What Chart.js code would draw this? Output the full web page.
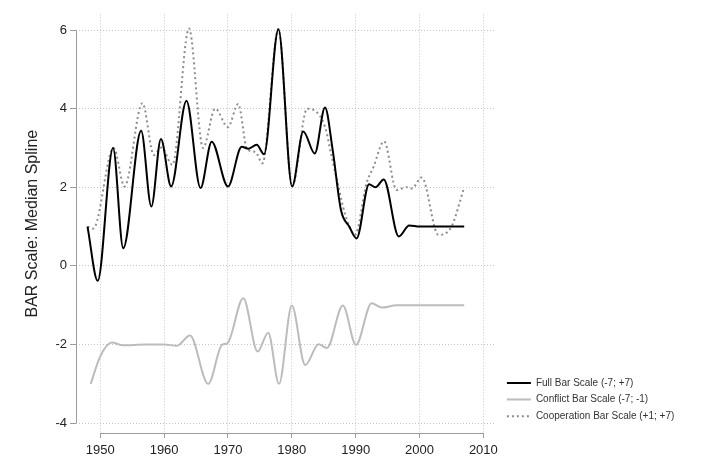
<!DOCTYPE html>
<html>
<head>
<meta charset="utf-8">
<script src="https://cdn.jsdelivr.net/npm/chart.js@4.4.1/dist/chart.umd.min.js"></script>
<style>
  html, body { margin: 0; padding: 0; background: #fff; }
  canvas { display: block; }
</style>
</head>
<body>
<canvas id="barChart" width="716" height="474"></canvas>
<script>
// values (knots of the median spline)
const fullYears = [1948, 1949.6, 1952.0, 1953.6, 1956.4, 1958.0, 1959.5, 1961.1, 1963.5, 1965.7,
  1967.45, 1970.0, 1972.15, 1973.2, 1974.5, 1975.65, 1977.9, 1980.05, 1981.8, 1983.6,
  1985.2, 1986.4, 1987.7, 1989.0, 1990.15, 1992.1, 1993.1, 1994.4, 1996.75, 1998.4, 2000.0, 2007.0];
const fullValues = [1.0, -0.38, 3.0, 0.45, 3.44, 1.51, 3.23, 2.02, 4.2, 1.98,
  3.16, 2.02, 3.03, 2.98, 3.08, 2.84, 6.02, 2.02, 3.42, 2.86,
  4.03, 2.95, 1.42, 1.0, 0.7, 2.08, 2.0, 2.2, 0.75, 1.03, 1.0, 1.0];

const conflictYears = [1948.5, 1950.0, 1951.8, 1953.6, 1957.0, 1960.0, 1962.0, 1964.05, 1966.9, 1969.1,
  1969.9, 1972.4, 1974.65, 1976.3, 1978.0, 1980.0, 1982.1, 1984.2, 1985.5, 1988.0,
  1990.05, 1992.5, 1994.1, 1996.4, 2007.0];
const conflictValues = [-3.0, -2.3, -1.95, -2.02, -2.0, -2.0, -2.03, -1.77, -3.0, -2.0,
  -1.97, -0.82, -2.18, -1.7, -3.0, -1.01, -2.52, -1.99, -2.09, -1.01,
  -2.01, -0.95, -1.06, -1.0, -1.0];

const coopYears = [1948.0, 1948.9, 1952.1, 1953.8, 1956.6, 1958.4, 1959.6, 1961.3, 1963.9, 1966.1,
  1968.0, 1970.0, 1971.6, 1973.0, 1974.3, 1975.4, 1977.9, 1980.05, 1982.4, 1983.6,
  1985.2, 1986.25, 1987.3, 1988.3, 1989.9, 1991.7, 1992.8, 1994.45, 1996.4, 1998.0,
  1998.8, 2000.35, 2002.95, 2005.0, 2007.0];
const coopValues = [1.0, 0.95, 3.0, 2.02, 4.14, 2.82, 3.01, 2.57, 6.04, 3.0,
  4.0, 3.53, 4.12, 2.97, 2.9, 2.61, 6.02, 2.02, 4.0, 3.95,
  3.54, 2.78, 2.02, 1.34, 0.79, 2.1, 2.52, 3.17, 1.93, 2.0,
  1.97, 2.25, 0.79, 1.0, 2.0];

const xTicks = [1950, 1960, 1970, 1980, 1990, 2000, 2010];
const yTicks = [-4, -2, 0, 2, 4, 6];

const toPoints = (xs, ys) => xs.map((x, i) => ({ x, y: ys[i] }));

Chart.defaults.font.family = '"Liberation Sans", Arial, sans-serif';
Chart.defaults.color = '#222';

// axis lines only span the tick range, and the legend sits a bit off the plot
const stataAxes = {
  id: 'stataAxes',
  afterLayout(chart) {
    const lg = chart.legend;
    lg.left += 6; lg.right += 6;
    lg.top -= 5; lg.bottom -= 5;
  },
  afterDraw(chart) {
    const { ctx, chartArea, scales: { x, y } } = chart;
    const px = v => Math.round(v - 0.5) + 0.5;
    ctx.save();
    ctx.strokeStyle = '#9c9c9c';
    ctx.lineWidth = 1;
    ctx.beginPath();
    ctx.moveTo(px(chartArea.left), y.getPixelForValue(yTicks[yTicks.length - 1]));
    ctx.lineTo(px(chartArea.left), y.getPixelForValue(yTicks[0]));
    ctx.moveTo(x.getPixelForValue(xTicks[0]), px(chartArea.bottom));
    ctx.lineTo(x.getPixelForValue(xTicks[xTicks.length - 1]), px(chartArea.bottom));
    ctx.stroke();
    ctx.restore();
  }
};

new Chart(document.getElementById('barChart'), {
  type: 'line',
  data: {
    datasets: [
      { label: 'Full Bar Scale (-7; +7)', data: toPoints(fullYears, fullValues),
        borderColor: '#000', borderWidth: 2 },
      { label: 'Conflict Bar Scale (-7; -1)', data: toPoints(conflictYears, conflictValues),
        borderColor: '#bcbcbc', borderWidth: 2 },
      { label: 'Cooperation Bar Scale (+1; +7)', data: toPoints(coopYears, coopValues),
        borderColor: '#8c8c8c', borderWidth: 2, borderDash: [2, 3] }
    ]
  },
  options: {
    responsive: false,
    animation: false,
    layout: { padding: { top: 14.3, right: 41.8, bottom: 0, left: 0 } },
    elements: {
      point: { radius: 0, hoverRadius: 0, pointStyle: 'line' },
      line: { cubicInterpolationMode: 'monotone', fill: false }
    },
    plugins: {
      tooltip: { enabled: false },
      legend: {
        position: 'right',
        align: 'end',
        fullSize: false,
        maxWidth: 180,
        labels: {
          usePointStyle: true,
          pointStyleWidth: 24,
          padding: 6.7,
          color: '#333',
          font: { size: 10 },
          generateLabels(chart) {
            const items = Chart.defaults.plugins.legend.labels.generateLabels(chart);
            items.forEach(it => {
              const ds = chart.data.datasets[it.datasetIndex];
              it.lineDash = ds.borderDash || [];
              it.strokeStyle = ds.borderColor;
              it.lineWidth = ds.borderWidth;
            });
            return items;
          }
        }
      }
    },
    scales: {
      x: {
        type: 'linear',
        min: 1946.2,
        max: 2011.7,
        afterFit: s => { s.height = 41; },
        afterBuildTicks: s => { s.ticks = xTicks.map(v => ({ value: v })); },
        border: { display: false, dash: [1, 2] },
        grid: { color: '#c4c4c4', tickLength: 5, tickColor: '#9c9c9c', tickBorderDash: [] },
        ticks: { font: { size: 13 }, padding: 5, maxRotation: 0, callback: v => String(v) }
      },
      y: {
        min: -4.25,
        max: 6.4,
        afterFit: s => { s.width = 76; },
        afterBuildTicks: s => { s.ticks = yTicks.map(v => ({ value: v })); },
        border: { display: false, dash: [1, 2] },
        grid: { color: '#c4c4c4', tickLength: 6, tickColor: '#9c9c9c', tickBorderDash: [] },
        ticks: { font: { size: 13 }, padding: 3, callback: v => String(v) },
        title: { display: true, text: 'BAR Scale: Median Spline', font: { size: 16 }, padding: { top: 23, bottom: 0 } }
      }
    }
  },
  plugins: [stataAxes]
});
</script>
</body>
</html>
